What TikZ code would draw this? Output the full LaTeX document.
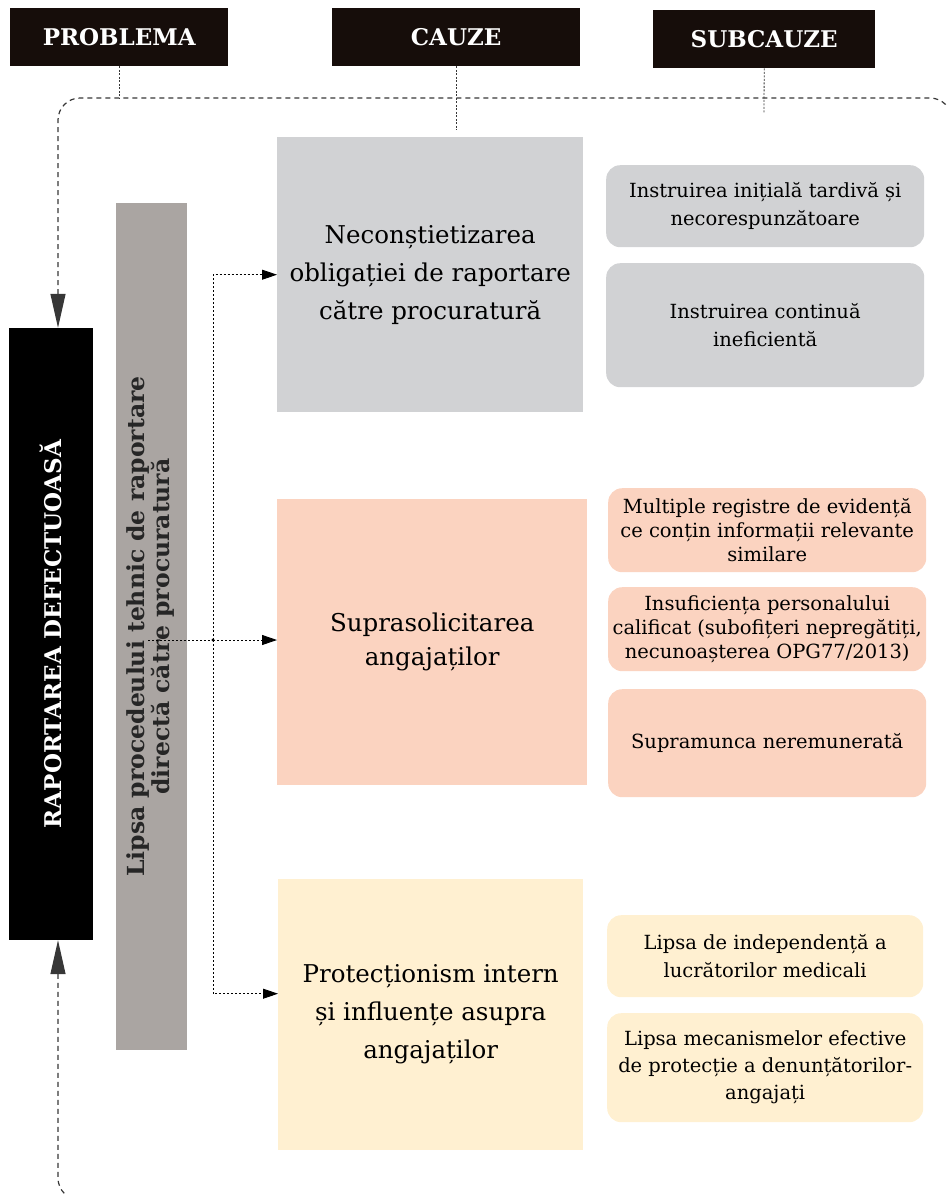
\documentclass[tikz,border=0pt]{standalone}
\usepackage{fontspec}
\setmainfont{DejaVu Serif}
\usepackage{xcolor}
\usetikzlibrary{positioning, calc, arrows.meta}
\definecolor{headblack}{RGB}{22, 13, 10}
\definecolor{barbrown}{RGB}{170, 165, 162}
\definecolor{causegray}{RGB}{209, 210, 212}
\definecolor{causesalmon}{RGB}{251, 211, 192}
\definecolor{causecream}{RGB}{255, 240, 209}
\definecolor{framegray}{RGB}{55, 55, 55}

\begin{document}
\begin{tikzpicture}[
  x=1pt, y=-1pt,
  headbox/.style={fill=headblack, text=white, anchor=north west, inner sep=0, minimum height=58pt, font=\fontsize{23}{27}\selectfont\bfseries},
  causebox/.style={anchor=north west, inner sep=0, align=center, font=\fontsize{24.5}{38}\selectfont},
  subbox/.style={anchor=north west, inner sep=0, align=center, rounded corners=14pt, font=\fontsize{19.5}{28}\selectfont},
  link/.style={line width=0.9pt, dash pattern=on 2pt off 2pt},
  headlink/.style={line width=0.8pt, draw=framegray, dash pattern=on 2pt off 1.5pt},
  frameline/.style={line width=1.2pt, draw=framegray, dash pattern=on 5pt off 4pt, rounded corners=22pt},
  bigarrow/.style={<-, >={Triangle[length=34pt, width=15pt]}},
  smallarrow/.style={->, >={Triangle[length=15pt, width=10pt]}},
]
\useasboundingbox (0,0) rectangle (946,1195);

% ==================== Headers ====================
\node[headbox, minimum width=218pt] (probhead) at (10,8) {PROBLEMA};
\node[headbox, minimum width=248pt] (causehead) at (332,8) {CAUZE};
\node[headbox, minimum width=222pt] (subhead) at (653,10) {SUBCAUZE};

% ==================== Problem ====================
\node[fill=black, text=white, rotate=90, inner sep=0, minimum width=612pt, minimum height=84pt,
  font=\fontsize{23}{27}\selectfont\bfseries] (problem) at (51,634) {RAPORTAREA DEFECTUOASĂ};

\node[fill=barbrown, text=black!85, rotate=90, inner sep=0, align=center, minimum width=847pt, minimum height=71pt,
  font=\fontsize{23.5}{25}\selectfont\bfseries] (lipsa) at (151,626.5)
  {Lipsa procedeului tehnic de raportare\\directă către procuratură};

% ==================== Causes ====================
\node[causebox, fill=causegray, minimum width=306pt, minimum height=275pt] (cause1) at (277,137)
  {Neconștietizarea\\obligației de raportare\\către procuratură};
\node[causebox, fill=causesalmon, minimum width=310pt, minimum height=286pt, font=\fontsize{24.5}{34}\selectfont] (cause2) at (277,499)
  {Suprasolicitarea\\angajaților};
\node[causebox, fill=causecream, minimum width=305pt, minimum height=271pt] (cause3) at (278,879)
  {Protecționism intern\\și influențe asupra\\angajaților};

% ==================== Subcauses ====================
\node[subbox, fill=causegray, minimum width=318pt, minimum height=82pt] (sub1) at (606,165)
  {Instruirea inițială tardivă și\\necorespunzătoare};
\node[subbox, fill=causegray, minimum width=318pt, minimum height=124pt] (sub2) at (606,263)
  {Instruirea continuă\\ineficientă};
\node[subbox, fill=causesalmon, minimum width=318pt, minimum height=84pt, font=\fontsize{19.5}{24}\selectfont] (sub3) at (608,488)
  {Multiple registre de evidență\\ce conțin informații relevante\\similare};
\node[subbox, fill=causesalmon, minimum width=318pt, minimum height=84pt, font=\fontsize{19.5}{24}\selectfont] (sub4) at (608,587)
  {Insuficiența personalului\\calificat (subofițeri nepregătiți,\\necunoașterea OPG77/2013)};
\node[subbox, fill=causesalmon, minimum width=318pt, minimum height=108pt] (sub5) at (608,689)
  {Supramunca neremunerată};
\node[subbox, fill=causecream, minimum width=316pt, minimum height=82pt] (sub6) at (607,915)
  {Lipsa de independență a\\lucrătorilor medicali};
\node[subbox, fill=causecream, minimum width=316pt, minimum height=109pt, font=\fontsize{19.5}{27}\selectfont] (sub7) at (607,1013)
  {Lipsa mecanismelor efective\\de protecție a denunțătorilor-\\angajați};

% ==================== Connectors ====================
\coordinate (frameTL) at (58,98);
\coordinate (frameTR) at (952,98);
\coordinate (frameRB) at (952,400);
\coordinate (frameBL) at (58,1200);
\coordinate (frameBR) at (400,1200);
\coordinate (subend) at (764,113);
\coordinate (barmid) at (148,640);
\coordinate (split) at (213,640);

\begin{scope}
\clip (0,0) rectangle (946,1195);
\draw[frameline, bigarrow] ([xshift=7pt]problem.east) -- (frameTL) -- (frameTR) -- (frameRB);
\draw[frameline, bigarrow] ([xshift=7pt]problem.west) -- (frameBL) -- (frameBR);
\end{scope}

\draw[headlink] (probhead.south) -- (probhead.south |- frameTL);
\draw[headlink, shorten >=7pt] (causehead.south) -- (causehead.south |- cause1.north);
\draw[headlink] (subhead.south) -- (subend);

\draw[link] (barmid) -- (split);
\draw[link, smallarrow] (split) -- (cause2.west |- split);
\draw[link, smallarrow] (split) |- (cause1.west);
\draw[link, smallarrow] (split) |- ([yshift=21pt]cause3.west);
\fill (split) circle (1.6pt);

\end{tikzpicture}
\end{document}
